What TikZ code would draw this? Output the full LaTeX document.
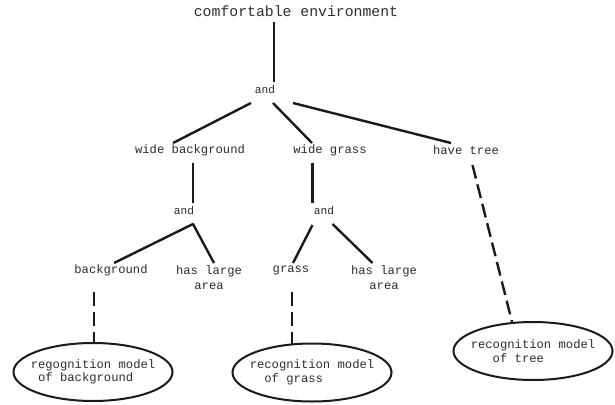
\documentclass[tikz,border=0pt]{standalone}
\usepackage{fontspec}
\setmonofont{Liberation Mono}
\usetikzlibrary{shapes.geometric,calc}
\definecolor{ink}{HTML}{1A1A1A}
\definecolor{txt}{HTML}{2E2E2E}
\begin{document}
\begin{tikzpicture}[x=1pt,y=-1pt,
  lbl/.style={font=\ttfamily\fontsize{12.2}{15}\selectfont, text=txt, inner sep=0pt},
  ttl/.style={font=\ttfamily\fontsize{14.8}{17}\selectfont, text=txt, inner sep=0pt},
  andlbl/.style={font=\ttfamily\fontsize{11.2}{13}\selectfont, text=txt, inner sep=0pt},
  edge/.style={draw=ink, line width=2.4pt, line join=round},
  dedge/.style={draw=ink, line width=2.4pt, dash pattern=on 14pt off 6pt},
  model/.style={ellipse, draw=ink, line width=2pt, minimum width=159pt, minimum height=58pt,
    inner xsep=-6pt, inner ysep=0pt, align=left, font=\ttfamily\fontsize{12.2}{13.5}\selectfont, text=txt}]
\useasboundingbox[fill=white] (0,0) rectangle (615,404);

\node[ttl] (title) at (296,11) {comfortable environment};
\node[andlbl] (a1) at (265,90) {and};
\node[lbl] (wb) at (190,150) {wide background};
\node[lbl] (wg) at (330,150) {wide grass};
\node[lbl] (ht) at (466,150) {have tree};
\node[andlbl] (a2) at (184,211) {and};
\node[andlbl] (a3) at (324,211) {and};
\node[lbl] (bg) at (111,270) {background};
\node[lbl, align=center] (hl1) at (209,277.5) {has large\\area};
\node[lbl] (gr) at (291,270) {grass};
\node[lbl, align=center] (hl2) at (384,277.5) {has large\\area};
\node[model] (e1) at (93,372) {regognition model\\\phantom{o}of background};
\node[model] (e2) at (312,372.5) {recognition model\\\phantom{oo}of grass};
\node[model] (e3) at (533,351) {recognition model\\\phantom{ooo}of tree};

\draw[edge] ($(title)+(-22,11)$) -- ($(a1)+(9,-8)$);
\draw[edge] ($(a1)+(-14,13)$) -- ($(wb)+(-17,-7)$);
\draw[edge] ($(a1)+(8,13)$) -- ($(wg)+(-18,-7)$);
\draw[edge] ($(a1)+(28,13)$) -- ($(ht)+(-15,-7)$);
\draw[edge] ($(wb)+(3,13)$) -- ($(a2)+(9,-8)$);
\draw[edge] ($(wg)+(-17.5,13)$) -- ($(a3)+(-11.5,-8)$);
\draw[edge] ($(bg)+(3,-7)$) -- ($(a2)+(9,13)$) -- ($(hl1)+(5,-14.5)$);
\draw[edge] ($(a3)+(-11.5,14)$) -- ($(gr)+(2,-7)$);
\draw[edge] ($(a3)+(8.5,13)$) -- ($(hl2)+(-11.5,-14.5)$);
\draw[dedge] ($(ht)+(6.5,15)$) -- ($(e3)+(-21,-29)$);
\draw[dedge] ($(bg)+(-17,22)$) -- ($(e1)+(1,-30)$);
\draw[dedge] ($(gr)+(1,22)$) -- ($(e2)+(-20,-29)$);
\end{tikzpicture}
\end{document}
